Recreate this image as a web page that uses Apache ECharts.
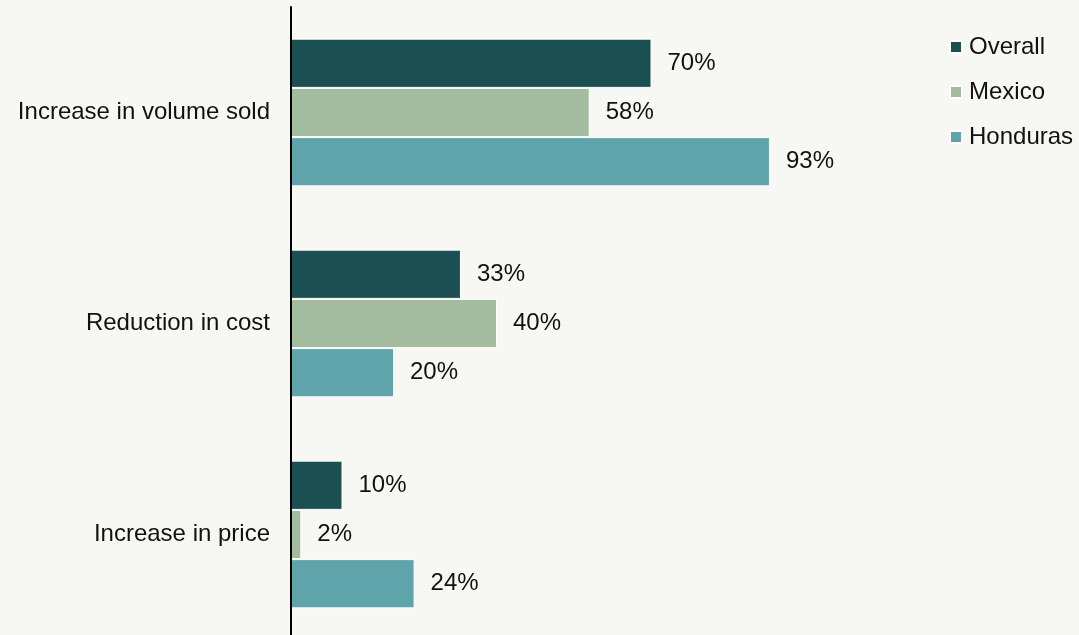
<!DOCTYPE html>
<html><head><meta charset="utf-8">
<script src="https://cdn.jsdelivr.net/npm/echarts@6/dist/echarts.min.js"></script>
<style>html,body{margin:0;padding:0;background:#f7f7f3;}#c{width:1079px;height:635px;}</style>
</head><body><div id="c"></div>
<script>
const categories = ["Increase in volume sold", "Reduction in cost", "Increase in price"];
const seriesNames = ["Overall", "Mexico", "Honduras"];
const overall = [70, 33, 10];
const mexico = [58, 40, 2];
const honduras = [93, 20, 24];
const colors = ["#1b4f52", "#a3bb9e", "#5fa4aa"];

const chart = echarts.init(document.getElementById('c'), null, {renderer: 'canvas'});
const font = "'Liberation Sans', Arial, sans-serif";
const values = [overall, mexico, honduras];
chart.setOption({
  backgroundColor: '#f7f7f3',
  animation: false,
  textStyle: {fontFamily: font},
  legend: {
    orient: 'vertical', left: 944, top: 30,
    itemWidth: 12, itemHeight: 12, itemGap: 21, icon: 'rect',
    textStyle: {fontSize: 24, color: '#111', fontFamily: font, padding: [0,0,0,2]},
    data: seriesNames
  },
  grid: {left: 291, top: 7, width: 515, height: 633, outerBoundsMode: 'none', containLabel: false},
  xAxis: {type: 'value', min: 0, max: 100, show: false},
  yAxis: {
    type: 'category', data: categories, inverse: true, z: 5,
    axisLine: {lineStyle: {color: '#000', width: 2}},
    axisTick: {show: false},
    axisLabel: {fontSize: 24, color: '#111', margin: 21, fontFamily: font}
  },
  series: seriesNames.map((n, i) => ({
    name: n, type: 'bar', data: values[i],
    barGap: '0%', barCategoryGap: '30%',
    itemStyle: {color: colors[i], borderColor: '#ffffff', borderWidth: 1},
    label: {show: true, position: 'right', distance: 16, formatter: '{c}%', fontSize: 24, color: '#111', fontFamily: font}
  }))
});
</script></body></html>
